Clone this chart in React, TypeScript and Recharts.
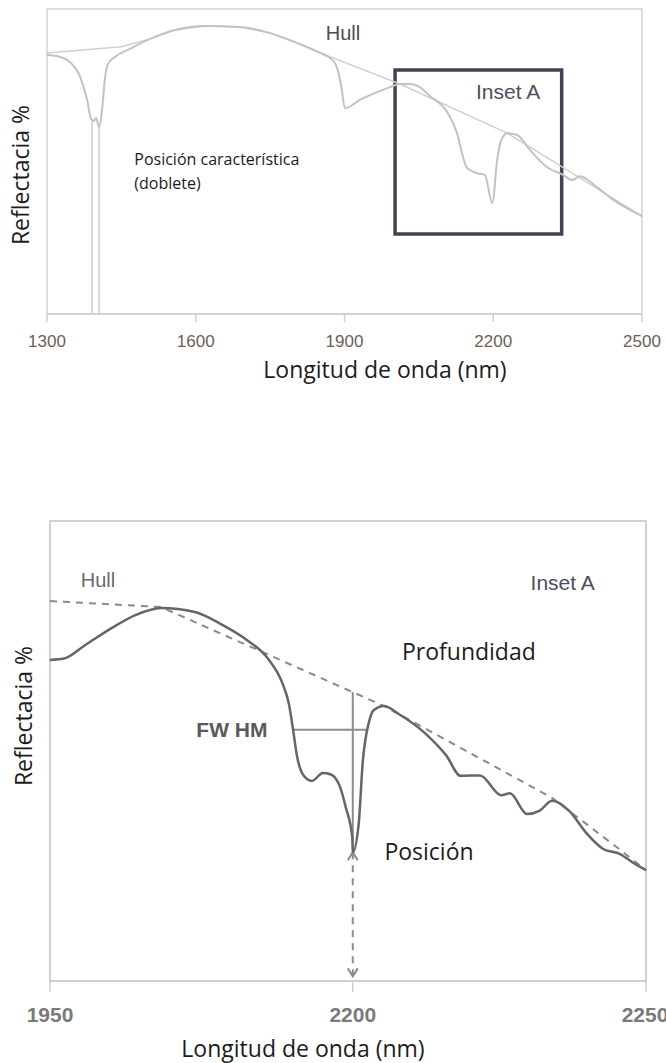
import React from "react";
import {
  LineChart,
  Line,
  XAxis,
  YAxis,
  ReferenceArea,
  ReferenceLine,
  ReferenceDot,
} from "recharts";

// ---- full spectrum, 1300–2500 nm ----
const fullNm = [
  1300, 1326, 1346, 1367, 1381, 1389, 1395, 1399, 1405, 1411,
  1417, 1423, 1437, 1467, 1508, 1558, 1619, 1689, 1750, 1810,
  1851, 1871, 1883, 1893, 1901, 1931, 1962, 1992, 2012, 2032,
  2052, 2072, 2107, 2127, 2139, 2147, 2167, 2183, 2198, 2208,
  2216, 2228, 2248, 2274, 2308, 2341, 2359, 2375, 2409, 2442, 2500,
];
const fullRefl = [
  84.9, 84.3, 82.6, 77.7, 70.2, 63.9, 63.3, 64.3, 61.3, 66.9,
  77.4, 82.0, 84.3, 86.9, 90.2, 93.1, 94.4, 94.1, 92.1, 88.5,
  85.6, 83.9, 81.6, 75.1, 67.5, 70.2, 72.5, 74.4, 75.4, 75.4,
  74.4, 71.5, 66.2, 59.3, 51.5, 47.9, 46.2, 45.6, 36.4, 50.5,
  57.0, 59.3, 58.7, 53.8, 48.2, 45.6, 43.9, 45.2, 41.6, 37.4, 32.1,
];
const fullHullNm = [1300, 1450, 1508, 1558, 1619, 1689, 1750, 1810, 1851, 2012, 2228, 2500];
const fullHullRefl = [85.6, 87.6, 90.2, 93.1, 94.4, 94.1, 92.1, 88.5, 85.6, 75.4, 59.3, 32.1];
const fullTicks = [1300, 1600, 1900, 2200, 2500];
// doublet band positions
const doubletNm = [1391, 1405];
const doubletRefl = [63.6, 61.3];

// ---- inset A ----
const insetNm = [
  1950, 1961.6, 1978.9, 1999.5, 2021, 2041.6, 2069.6, 2091.1, 2111.7, 2129.9,
  2141.8, 2147.2, 2150.5, 2153.8, 2159.6, 2166.2, 2175.3, 2181.9, 2189.3, 2194.2,
  2199.7, 2200, 2201.0, 2201.7, 2202.8, 2203.6, 2205.3, 2207.9, 2212.3, 2215.9,
  2218.4, 2221.7, 2225.3, 2226.8, 2229.7, 2231.8, 2234.0, 2236.9, 2239.8, 2242.7,
  2245.6, 2247.8, 2250,
];
const insetRefl = [
  69.8, 70.1, 73.0, 76.5, 79.6, 81.1, 80.2, 77.6, 74.3, 70.1,
  64.8, 60.3, 55.0, 49.1, 44.6, 43.5, 45.2, 44.9, 42.3, 37.8,
  31.0, 28.0, 34.0, 47.6, 56.5, 58.9, 59.8, 58.0, 53.9, 49.1,
  44.6, 44.7, 40.4, 40.8, 36.3, 37.0, 39.2, 37.0, 32.2, 28.7,
  27.6, 25.7, 24.1,
];
const insetHullNm = [1950, 2041.6, 2205.3, 2234.0, 2245.6, 2250];
const insetHullRefl = [82.6, 81.3, 59.8, 39.8, 28.5, 24.1];
const insetTicks = [1950, 2200, 2250];

// band feature
const bandCenter = 2200;
const bandMin = 28.0;
const bandHullTop = 62.8;
const fwhmLevel = 54.6;
const fwhmFrom = 2150.5;
const fwhmTo = 2202.6;

// the inset axis is stretched: tick positions along the axis (0..1)
const insetTickPos = [0, 0.508, 1];
const toPos = (nm: number) => {
  for (let i = 1; i < insetTicks.length; i++) {
    if (nm <= insetTicks[i] || i === insetTicks.length - 1) {
      const a = insetTicks[i - 1];
      const b = insetTicks[i];
      return insetTickPos[i - 1] + ((nm - a) / (b - a)) * (insetTickPos[i] - insetTickPos[i - 1]);
    }
  }
  return 0;
};

const fullData = fullNm.map((nm, i) => ({ nm, r: fullRefl[i] }));
const fullHull = fullHullNm.map((nm, i) => ({ nm, r: fullHullRefl[i] }));
const insetData = insetNm.map((nm, i) => ({ pos: toPos(nm), r: insetRefl[i] }));
const insetHull = insetHullNm.map((nm, i) => ({ pos: toPos(nm), r: insetHullRefl[i] }));

const SANS = "'Open Sans', sans-serif";
const HELV = "'Liberation Sans', Arial, sans-serif";

const note = (
  key: string,
  x: number,
  y: number,
  text: string,
  style: Record<string, any>,
  position: any = "center"
) => (
  <ReferenceDot
    key={key}
    x={x}
    y={y}
    r={0}
    fill="none"
    stroke="none"
    label={{ value: text, position, offset: 0, ...style }}
  />
);

const doubleArrow = (p: any) => {
  const { x1, y1, x2, y2 } = p;
  const c = "#8c8c8c";
  return (
    <g>
      <line x1={x1} y1={y1} x2={x2} y2={y2} stroke={c} strokeWidth={2} strokeDasharray="7 6" />
      <path d={`M${x2 - 5},${y2 - 8} L${x2},${y2} L${x2 + 5},${y2 - 8}`} fill="none" stroke={c} strokeWidth={2} />
      <path d={`M${x1 - 5},${y1 + 8} L${x1},${y1} L${x1 + 5},${y1 + 8}`} fill="none" stroke={c} strokeWidth={2} />
    </g>
  );
};

const axisTitle = (text: string, cx: number, cy: number, rotate = false): React.ReactNode => (
  <div
    style={{
      position: "absolute",
      left: cx,
      top: cy,
      transform: `translate(-50%, -50%)${rotate ? " rotate(-90deg)" : ""}`,
      whiteSpace: "nowrap",
      fontFamily: SANS,
      fontSize: 23,
      color: "#1c1c1c",
      lineHeight: 1,
    }}
  >
    {text}
  </div>
);

function FullSpectrum() {
  const frame = "#d2d2d2";
  return (
    <LineChart width={666} height={400} margin={{ top: 9, right: 24, bottom: 56, left: 47 }}>
      <XAxis
        dataKey="nm"
        type="number"
        domain={[1300, 2500]}
        ticks={fullTicks}
        height={30}
        axisLine={{ stroke: frame, strokeWidth: 2 }}
        tickLine={{ stroke: frame, strokeWidth: 1.5 }}
        tickSize={8}
        tickMargin={13}
        tick={{ fill: "#6b6058", fontSize: 17, fontFamily: HELV }}
      />
      <YAxis hide domain={[0, 100]} />
      <ReferenceArea x1={1300} x2={2500} y1={0} y2={100} fill="none" stroke={frame} strokeWidth={1.5} />
      {doubletNm.map((nm, i) => (
        <ReferenceLine
          key={`d${i}`}
          segment={[{ x: nm, y: doubletRefl[i] }, { x: nm, y: 0 }]}
          stroke="#cdcdcd"
          strokeWidth={1.5}
        />
      ))}
      <Line data={fullHull} dataKey="r" type="linear" stroke="#d0d0d0" strokeWidth={1.5} dot={false} isAnimationActive={false} />
      <Line data={fullData} dataKey="r" type="monotone" stroke="#c2c2c2" strokeWidth={2} dot={false} isAnimationActive={false} />
      <ReferenceArea x1={2002} x2={2338} y1={26.2} y2={80} fill="none" stroke="#3f4352" strokeWidth={3.5} />
      {note("hull", 1897, 92.1, "Hull", { fill: "#4a4c58", fontSize: 20, fontFamily: HELV })}
      {note("inset", 2230, 72.8, "Inset A", { fill: "#4c505e", fontSize: 21, fontFamily: HELV })}
      {note("pos1", 1476, 50.8, "Posición característica", { fill: "#1c1c1c", fontSize: 16, fontFamily: SANS }, "right")}
      {note("pos2", 1476, 43.0, "(doblete)", { fill: "#1c1c1c", fontSize: 16, fontFamily: SANS }, "right")}
    </LineChart>
  );
}

function InsetSpectrum() {
  const frame = "#d0d0d0";
  const label = (v: number) => {
    const i = insetTickPos.findIndex((p) => Math.abs(p - v) < 1e-6);
    return i >= 0 ? String(insetTicks[i]) : "";
  };
  const line = "#8c8c8c";
  return (
    <LineChart width={666} height={563} margin={{ top: 21, right: 20, bottom: 42, left: 50 }}>
      <XAxis
        dataKey="pos"
        type="number"
        domain={[0, 1]}
        ticks={insetTicks.map(toPos)}
        tickFormatter={label}
        height={40}
        axisLine={{ stroke: frame, strokeWidth: 2 }}
        tickLine={{ stroke: frame, strokeWidth: 1.5 }}
        tickSize={11}
        tickMargin={15}
        tick={{ fill: "#7a7a7a", fontSize: 21, fontWeight: "bold", fontFamily: HELV }}
      />
      <YAxis hide domain={[0, 100]} />
      <ReferenceArea x1={0} x2={1} y1={0} y2={100} fill="none" stroke={frame} strokeWidth={2} />
      <ReferenceLine
        segment={[{ x: toPos(bandCenter), y: bandMin }, { x: toPos(bandCenter), y: 1 }]}
        shape={doubleArrow}
      />
      <ReferenceLine
        segment={[{ x: toPos(bandCenter), y: bandHullTop }, { x: toPos(bandCenter), y: bandMin }]}
        stroke={line}
        strokeWidth={2}
      />
      <ReferenceLine
        segment={[{ x: toPos(fwhmFrom), y: fwhmLevel }, { x: toPos(fwhmTo), y: fwhmLevel }]}
        stroke={line}
        strokeWidth={2}
      />
      <Line data={insetHull} dataKey="r" type="linear" stroke="#8a8a8a" strokeWidth={2} strokeDasharray="7 6" dot={false} isAnimationActive={false} />
      <Line data={insetData} dataKey="r" type="monotone" stroke="#666666" strokeWidth={2.5} dot={false} isAnimationActive={false} />
      {note("hull", toPos(1989.6), 87.2, "Hull", { fill: "#6a6a6a", fontSize: 20, fontFamily: HELV })}
      {note("inset", toPos(2235.8), 86.7, "Inset A", { fill: "#4c505e", fontSize: 21, fontFamily: HELV })}
      {note("depth", toPos(2219.8), 71.5, "Profundidad", { fill: "#1c1c1c", fontSize: 23, fontFamily: SANS })}
      {note("fwhm", toPos(2100.2), 54.7, "FW HM", { fill: "#5a5a5a", fontSize: 21, fontWeight: "bold", fontFamily: HELV })}
      {note("posn", toPos(2213), 28.0, "Posición", { fill: "#1c1c1c", fontSize: 23, fontFamily: SANS })}
    </LineChart>
  );
}

export default function App() {
  return (
    <div style={{ position: "absolute", left: 0, top: 0, width: 666, height: 1063, background: "#fff", overflow: "hidden" }}>
      <div style={{ position: "absolute", left: 0, top: 0 }}>
        <FullSpectrum />
      </div>
      <div style={{ position: "absolute", left: 0, top: 500 }}>
        <InsetSpectrum />
      </div>
      {axisTitle("Reflectacia %", 20, 175, true)}
      {axisTitle("Longitud de onda (nm)", 385, 369)}
      {axisTitle("Reflectacia %", 23, 716, true)}
      {axisTitle("Longitud de onda (nm)", 303, 1048)}
    </div>
  );
}
